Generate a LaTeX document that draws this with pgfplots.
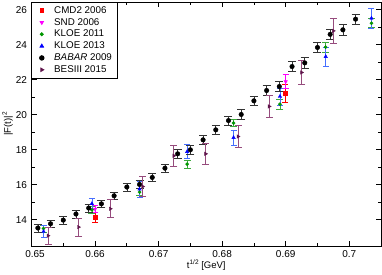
\documentclass[border=0pt]{standalone}
\usepackage{fontspec}
\setmainfont{Liberation Sans}
\usepackage{pgfplots}
\pgfplotsset{compat=1.18}
\usepackage{pgfplotstable}
\definecolor{kgreen}{RGB}{0,150,0}
\definecolor{kgreenbar}{RGB}{60,170,60}
\definecolor{kblue}{RGB}{0,0,255}
\definecolor{kbluebar}{RGB}{70,110,255}
\definecolor{bpurple}{RGB}{95,20,75}
\definecolor{bpurplebar}{RGB}{150,75,125}
\definecolor{cmdred}{RGB}{255,0,0}
\definecolor{sndmag}{RGB}{255,0,255}

\pgfplotstableread{
x y e
0.651 13.53 0.22
0.653 13.77 0.22
0.655 13.98 0.22
0.657 14.33 0.22
0.659 14.67 0.22
0.661 14.91 0.22
0.663 15.37 0.22
0.665 15.87 0.22
0.667 16.02 0.23
0.669 16.42 0.23
0.671 16.95 0.24
0.673 17.77 0.25
0.675 18.00 0.25
0.677 18.57 0.25
0.679 19.14 0.26
0.681 19.67 0.26
0.683 20.02 0.27
0.685 20.80 0.27
0.687 21.39 0.28
0.689 21.62 0.28
0.691 22.76 0.29
0.693 22.97 0.29
0.695 23.85 0.29
0.697 24.60 0.30
0.699 24.86 0.30
0.701 25.47 0.30
}\babar

\pgfplotstableread{
x y e
0.6519 13.33 0.33
0.6595 14.92 0.33
0.6670 15.75 0.45
0.6745 17.90 0.40
0.6818 18.70 0.43
0.6891 21.05 0.48
0.6963 23.33 0.55
0.7035 25.52 0.57
}\kloeB

\pgfplotstableread{
x y e
0.6519 13.50 0.20
0.6595 14.57 0.20
0.6670 15.58 0.20
0.6745 17.18 0.24
0.6818 19.53 0.20
0.6891 20.61 0.27
0.6963 23.87 0.28
0.7035 25.24 0.25
}\kloeA

\pgfplotstableread{
x y e
0.6600 14.15 0.29
0.6899 21.24 0.52
}\cmd

\pgfplotstableread{
x y e
0.6600 14.61 0.21
0.6900 21.90 0.40
}\snd

\pgfplotstableread{
x y e
0.6526 13.09 0.50
0.6574 13.58 0.52
0.6624 14.63 0.52
0.6675 15.90 0.57
0.6724 17.66 0.62
0.6774 17.77 0.58
0.6825 18.76 0.64
0.6874 20.48 0.64
0.6925 22.42 0.67
0.6975 24.80 0.74
}\bes

\begin{document}
\begin{tikzpicture}
\begin{axis}[
  scale only axis,
  width=349.5pt, height=244pt,
  xmin=0.65, xmax=0.705,
  ymin=12.5, ymax=26.45,
  xtick={0.65,0.66,0.67,0.68,0.69,0.70},
  xticklabels={\hspace*{7pt}0.65,0.66,0.67,0.68,0.69,0.7},
  ytick={14,16,18,20,22,24,26},
  yticklabels={14,16,18,20,22,24,26},
  minor x tick num=1,
  minor y tick num=1,
  tick align=inside,
  major tick length=5pt,
  minor tick length=3pt,
  tick style={black, line width=0.8pt},
  axis line style={line width=0.9pt},
  tick label style={font=\fontsize{10}{12}\selectfont},
  xticklabel style={yshift=-1pt},
  yticklabel style={xshift=-1pt},
  xlabel={t\raisebox{0.8ex}{\fontsize{6.5}{7}\selectfont 1/2} [GeV]},
  ylabel={|F(t)|\raisebox{0.8ex}{\fontsize{6.5}{7}\selectfont 2}},
  label style={font=\fontsize{9.5}{11}\selectfont},
  xlabel style={yshift=5pt},
  ylabel style={yshift=-4pt},
  legend cell align=left,
  legend image code/.code={\path (-6.5pt,0pt) (10pt,0pt); \draw[#1] plot coordinates {(0pt,0pt)};},
  legend style={at={(0,1)}, anchor=north west, draw=black, line width=0.8pt,
    font=\fontsize{9.8}{11}\selectfont, row sep=-0.5pt, inner xsep=3pt, inner ysep=2pt},
  error bars/y dir=both,
  error bars/y explicit,
]
\addplot[only marks, mark=square*, mark size=1.7pt, color=cmdred,
  error bars/error bar style={cmdred, line width=0.6pt},
  error bars/error mark options={rotate=90, mark size=3pt, line width=0.6pt, cmdred}]
  table[x=x, y=y, y error=e]{\cmd};
\addlegendentry{CMD2 2006}
\addplot[only marks, mark=triangle*, mark options={rotate=180}, mark size=2pt, color=sndmag,
  error bars/error bar style={sndmag, line width=0.6pt},
  error bars/error mark options={rotate=90, mark size=3pt, line width=0.6pt, sndmag}]
  table[x=x, y=y, y error=e]{\snd};
\addlegendentry{SND 2006}
\addplot[only marks, mark=*, mark size=1.6pt, color=kgreen,
  error bars/error bar style={kgreenbar, line width=0.6pt},
  error bars/error mark options={rotate=90, mark size=3.5pt, line width=0.6pt, kgreenbar}]
  table[x=x, y=y, y error=e]{\kloeA};
\addlegendentry{KLOE 2011}
\addplot[only marks, mark=triangle*, mark size=2pt, color=kblue,
  error bars/error bar style={kbluebar, line width=0.6pt},
  error bars/error mark options={rotate=90, mark size=3pt, line width=0.6pt, kbluebar}]
  table[x=x, y=y, y error=e]{\kloeB};
\addlegendentry{KLOE 2013}
\addplot[only marks, mark=*, mark size=2.3pt, color=black,
  error bars/error bar style={black!80, line width=0.6pt},
  error bars/error mark options={rotate=90, mark size=4pt, line width=0.6pt, black!80}]
  table[x=x, y=y, y error=e]{\babar};
\addlegendentry{\textit{BABAR} 2009}
\addplot[only marks, mark=triangle*, mark options={rotate=-90}, mark size=2pt, color=bpurple,
  error bars/error bar style={bpurplebar, line width=0.7pt},
  error bars/error mark options={rotate=90, mark size=3.5pt, line width=0.7pt, bpurplebar}]
  table[x=x, y=y, y error=e]{\bes};
\addlegendentry{BESIII 2015}
\end{axis}
\pgfresetboundingbox
\path[use as bounding box] ([shift={(-31.5pt,-28pt)}]current axis.south west) rectangle ([shift={(1pt,2pt)}]current axis.north east);
\end{tikzpicture}
\end{document}
